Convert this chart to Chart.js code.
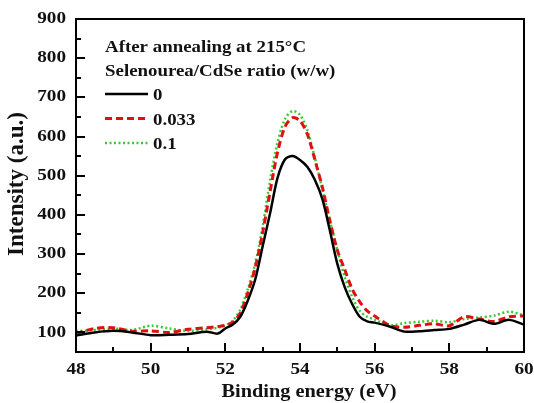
<!DOCTYPE html>
<html>
<head>
<meta charset="utf-8">
<script src="https://cdn.jsdelivr.net/npm/chart.js@4"></script>
<style>
  html, body { margin: 0; padding: 0; background: #fff; overflow: hidden; }
  canvas { display: block; }
</style>
</head>
<body>
<canvas id="xpsChart" width="534" height="403"></canvas>
<script>
// Binding energy (eV) sample points
const energies = [48, 48.5, 49, 49.5, 50, 50.5, 51, 51.5, 51.8, 52, 52.2, 52.4, 52.6, 52.8, 53.0, 53.2, 53.4, 53.6, 53.8, 54.0,
    54.2, 54.4, 54.6, 54.8, 55.0, 55.2, 55.4, 55.6, 55.8, 56.0, 56.4, 56.8, 57.2, 57.6, 58.0, 58.4, 58.8, 59.2, 59.6, 60];

// Intensity (a.u.) for each Selenourea/CdSe ratio
const ratio0 = [92, 100, 104, 100, 93, 94, 96, 102, 97, 110, 120, 140, 181, 235, 320, 405, 495, 542, 550, 540,
    522, 489, 440, 360, 275, 215, 172, 140, 128, 125, 115, 102, 103, 106, 109, 120, 132, 122, 132, 120];
const ratio033 = [97, 110, 112, 103, 104, 100, 108, 112, 115, 118, 126, 150, 200, 265, 355, 460, 560, 625, 648, 640,
    605, 540, 470, 385, 310, 260, 210, 178, 155, 142, 118, 113, 118, 122, 117, 140, 134, 128, 140, 142];
const ratio01 = [103, 106, 110, 106, 117, 110, 104, 108, 112, 118, 130, 158, 210, 275, 370, 489, 585, 645, 665, 655,
    615, 545, 465, 386, 310, 241, 190, 155, 140, 133, 118, 124, 127, 130, 126, 134, 138, 143, 153, 143];

const seriesNames = ["0", "0.033", "0.1"];
const xTicks = [48, 50, 52, 54, 56, 58, 60];
const xMinorTicks = [49, 51, 53, 55, 57, 59];
const yTicks = [100, 200, 300, 400, 500, 600, 700, 800, 900];
const yMinorTicks = [150, 250, 350, 450, 550, 650, 750, 850];

const serif = "'Liberation Serif', 'Times New Roman', serif";

const toPoints = vals => energies.map((e, i) => ({ x: e, y: vals[i] }));

// the original figure's lettering is a bit wide, so stretch it
function wideText(ctx, txt, x, y, sx) {
    ctx.save();
    ctx.translate(x, y);
    ctx.scale(sx, 1);
    ctx.fillText(txt, 0, 0);
    ctx.restore();
}

// frame, inward ticks, tick labels, axis titles and the text legend
const framePlugin = {
    id: "frame",
    afterDraw(chart) {
        const ctx = chart.ctx;
        const sx = chart.scales.x, sy = chart.scales.y;
        const L = Math.round(sx.getPixelForValue(48)), R = Math.round(sx.getPixelForValue(60));
        const T = Math.round(sy.getPixelForValue(900)), B = Math.round(sy.getPixelForValue(50));
        ctx.save();
        ctx.fillStyle = "#000";
        ctx.fillRect(L - 1, T - 1, R - L + 2, 2);
        ctx.fillRect(L - 1, B - 1, R - L + 2, 2);
        ctx.fillRect(L - 1, T - 1, 2, B - T + 2);
        ctx.fillRect(R - 1, T - 1, 2, B - T + 2);
        xTicks.forEach(v => ctx.fillRect(Math.round(sx.getPixelForValue(v)) - 1, B - 9, 2, 9));
        xMinorTicks.forEach(v => ctx.fillRect(Math.round(sx.getPixelForValue(v)) - 1, B - 5, 2, 5));
        yTicks.forEach(v => ctx.fillRect(L, Math.round(sy.getPixelForValue(v)) - 1, 9, 2));
        yMinorTicks.forEach(v => ctx.fillRect(L, Math.round(sy.getPixelForValue(v)) - 1, 5, 2));

        // tick labels
        ctx.fillStyle = "#111";
        ctx.font = "bold 16px " + serif;
        ctx.textBaseline = "middle";
        ctx.textAlign = "center";
        xTicks.forEach(v => wideText(ctx, String(v), sx.getPixelForValue(v), B + 18, 1.2));
        ctx.textAlign = "right";
        yTicks.forEach(v => wideText(ctx, String(v), L - 10, sy.getPixelForValue(v), 1.2));

        // axis titles
        ctx.textAlign = "center";
        ctx.font = "bold 18px " + serif;
        wideText(ctx, "Binding energy (eV)", 309, 392, 1.13);
        ctx.save();
        ctx.translate(17, 184);
        ctx.rotate(-Math.PI / 2);
        ctx.font = "bold 23px " + serif;
        ctx.fillText("Intensity (a.u.)", 0, 0);
        ctx.restore();

        // legend block
        ctx.font = "bold 16px " + serif;
        ctx.textBaseline = "alphabetic";
        ctx.textAlign = "left";
        wideText(ctx, "After annealing at 215°C", 105, 52, 1.18);
        wideText(ctx, "Selenourea/CdSe ratio (w/w)", 105, 76, 1.18);

        chart.data.datasets.forEach((ds, i) => {
            const ly = 94 + i * 24.5;
            ctx.save();
            ctx.strokeStyle = ds.borderColor;
            ctx.lineWidth = ds.borderWidth;
            ctx.setLineDash(ds.borderDash || []);
            ctx.beginPath();
            ctx.moveTo(105, ly);
            ctx.lineTo(148, ly);
            ctx.stroke();
            ctx.restore();
            wideText(ctx, ds.label, 153, ly + 6, 1.18);
        });
        ctx.restore();
    }
};

new Chart(document.getElementById("xpsChart"), {
    type: "line",
    data: {
        datasets: [
            { label: seriesNames[0], data: toPoints(ratio0), borderColor: "#000000", borderWidth: 2.5, tension: 0.3 },
            { label: seriesNames[1], data: toPoints(ratio033), borderColor: "#e01010", borderWidth: 3, borderDash: [7, 4], tension: 0.3 },
            { label: seriesNames[2], data: toPoints(ratio01), borderColor: "#33cc33", borderWidth: 2.5, borderDash: [2, 2.5], tension: 0.3 }
        ]
    },
    options: {
        responsive: false,
        animation: false,
        layout: { padding: { left: 0, right: 10, top: 19, bottom: 0 } },
        elements: { point: { radius: 0 } },
        plugins: { legend: { display: false }, tooltip: { enabled: false } },
        scales: {
            x: {
                type: "linear",
                min: 48, max: 60,
                afterBuildTicks: s => { s.ticks = xTicks.map(v => ({ value: v })); },
                afterFit: s => { s.height = 51; s.paddingLeft = 0; s.paddingRight = 0; },
                grid: { display: false },
                border: { display: false },
                ticks: { display: false }
            },
            y: {
                min: 50, max: 900,
                afterBuildTicks: s => { s.ticks = yTicks.map(v => ({ value: v })); },
                afterFit: s => { s.width = 76; s.paddingTop = 0; s.paddingBottom = 0; },
                grid: { display: false },
                border: { display: false },
                ticks: { display: false }
            }
        }
    },
    plugins: [framePlugin]
});
</script>
</body>
</html>
